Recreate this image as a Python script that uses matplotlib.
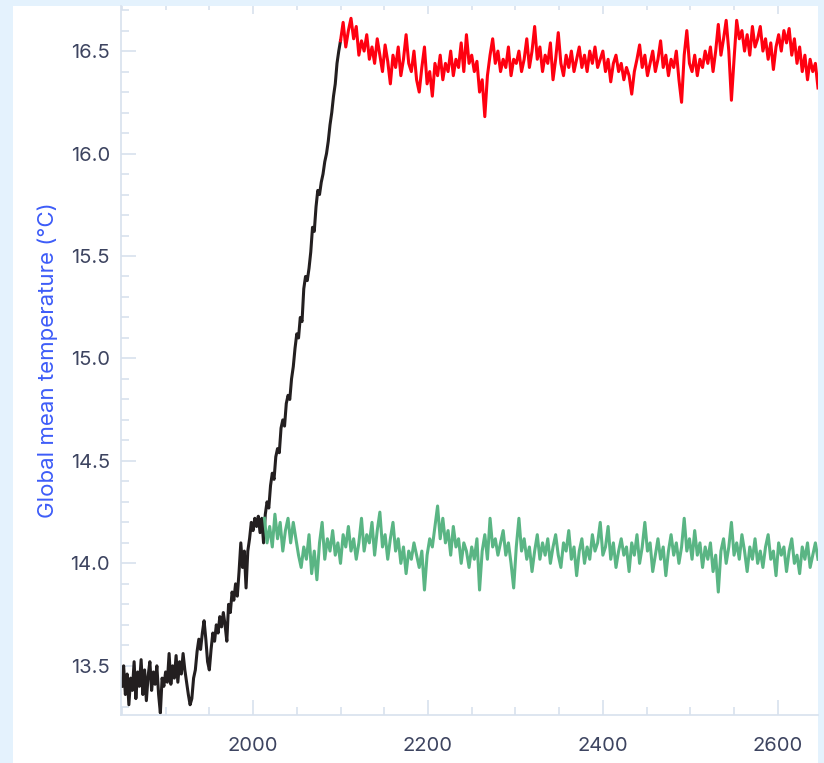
import matplotlib
matplotlib.use("Agg")
import matplotlib.pyplot as plt
import numpy as np

# ---- data ----
# historical record, one value every 2 years (1850-2100)
hist_years = list(range(1850, 2101, 2))
hist_temp = [
    13.40, 13.50, 13.36, 13.46, 13.31, 13.44, 13.38, 13.52, 13.34, 13.47,
    13.40, 13.53, 13.36, 13.48, 13.33, 13.45, 13.52, 13.38, 13.47, 13.41,
    13.50, 13.36, 13.27, 13.44, 13.40, 13.47, 13.42, 13.56, 13.41, 13.50,
    13.44, 13.55, 13.42, 13.52, 13.46, 13.56, 13.48, 13.42, 13.36, 13.31,
    13.34, 13.44, 13.48, 13.57, 13.63, 13.58, 13.66, 13.72, 13.63, 13.52,
    13.48, 13.58, 13.66, 13.62, 13.70, 13.66, 13.74, 13.69, 13.76, 13.70,
    13.62, 13.80, 13.76, 13.86, 13.82, 13.90, 13.84, 13.96, 14.10, 13.98,
    14.06, 13.88, 14.06, 14.12, 14.20, 14.16, 14.22, 14.18, 14.23, 14.15,
    14.22, 14.10, 14.24, 14.30, 14.27, 14.38, 14.44, 14.41, 14.52, 14.56,
    14.54, 14.66, 14.70, 14.67, 14.78, 14.82, 14.80, 14.90, 14.96, 15.05,
    15.12, 15.10, 15.20, 15.18, 15.34, 15.40, 15.38, 15.44, 15.52, 15.64,
    15.62, 15.74, 15.82, 15.80, 15.86, 15.90, 15.96, 16.00, 16.06, 16.14,
    16.20, 16.28, 16.34, 16.44, 16.50, 16.55,
]

# high emissions continuation, one value every 3 years (2100-2646)
high_years = list(range(2100, 2647, 3))
high_temp = [
    16.55, 16.64, 16.52, 16.60, 16.66, 16.56, 16.62, 16.48, 16.55, 16.50,
    16.58, 16.46, 16.52, 16.44, 16.56, 16.48, 16.40, 16.53, 16.45, 16.34,
    16.48, 16.42, 16.52, 16.38, 16.46, 16.58, 16.44, 16.40, 16.50, 16.36,
    16.30, 16.42, 16.52, 16.34, 16.40, 16.28, 16.44, 16.38, 16.48, 16.36,
    16.44, 16.40, 16.50, 16.38, 16.46, 16.42, 16.54, 16.40, 16.58, 16.44,
    16.48, 16.40, 16.45, 16.30, 16.36, 16.18, 16.38, 16.48, 16.56, 16.44,
    16.50, 16.40, 16.46, 16.42, 16.52, 16.38, 16.46, 16.44, 16.50, 16.40,
    16.46, 16.56, 16.42, 16.50, 16.62, 16.46, 16.52, 16.40, 16.48, 16.44,
    16.54, 16.36, 16.46, 16.59, 16.44, 16.38, 16.48, 16.42, 16.50, 16.40,
    16.46, 16.52, 16.42, 16.48, 16.40, 16.50, 16.44, 16.52, 16.42, 16.46,
    16.50, 16.40, 16.46, 16.35, 16.44, 16.48, 16.40, 16.44, 16.36, 16.42,
    16.38, 16.29, 16.40, 16.46, 16.53, 16.42, 16.48, 16.38, 16.44, 16.50,
    16.40, 16.46, 16.55, 16.42, 16.48, 16.38, 16.46, 16.42, 16.50, 16.36,
    16.25, 16.48, 16.60, 16.44, 16.40, 16.48, 16.38, 16.46, 16.42, 16.50,
    16.44, 16.52, 16.40, 16.50, 16.63, 16.48, 16.56, 16.65, 16.50, 16.26,
    16.46, 16.65, 16.56, 16.60, 16.50, 16.58, 16.48, 16.62, 16.52, 16.56,
    16.62, 16.50, 16.56, 16.46, 16.54, 16.41, 16.52, 16.58, 16.50, 16.60,
    16.54, 16.61, 16.48, 16.56, 16.44, 16.52, 16.40, 16.48, 16.36, 16.46,
    16.40, 16.44, 16.32,
]

# stabilised continuation, one value every 3 years (2013-2646)
low_years = list(range(2013, 2647, 3))
low_temp = [
    14.22, 14.10, 14.18, 14.08, 14.24, 14.12, 14.20, 14.06, 14.16, 14.22,
    14.10, 14.20, 14.12, 14.04, 13.98, 14.08, 14.02, 14.14, 13.95, 14.06,
    13.92, 14.10, 14.20, 14.02, 14.12, 14.06, 14.16, 14.04, 14.10, 14.00,
    14.14, 14.08, 14.18, 14.06, 14.12, 14.02, 14.10, 14.22, 14.06, 14.14,
    14.10, 14.20, 14.04, 14.16, 14.25, 14.08, 14.14, 14.02, 14.12, 14.20,
    14.06, 14.12, 14.00, 14.08, 13.95, 14.06, 14.02, 14.10, 14.04, 13.98,
    14.06, 13.87, 14.04, 14.12, 14.08, 14.18, 14.28, 14.12, 14.22, 14.10,
    14.16, 14.04, 14.18, 14.08, 14.12, 14.00, 14.10, 14.06, 13.98, 14.08,
    14.02, 14.12, 13.87, 14.06, 14.14, 14.02, 14.22, 14.08, 14.12, 14.04,
    14.10, 14.16, 14.04, 14.10, 14.00, 13.88, 14.08, 14.22, 14.06, 14.12,
    14.02, 14.08, 13.96, 14.06, 14.14, 14.02, 14.10, 14.04, 14.12, 14.00,
    14.08, 14.14, 14.04, 13.98, 14.10, 14.06, 14.16, 14.02, 14.08, 13.94,
    14.06, 14.12, 14.00, 14.08, 14.02, 14.14, 14.06, 14.10, 14.20, 14.04,
    14.08, 14.18, 14.02, 14.10, 13.98, 14.06, 14.12, 14.04, 14.08, 13.96,
    14.10, 14.04, 14.14, 14.00, 14.08, 14.20, 14.06, 14.10, 13.96, 14.04,
    14.12, 14.02, 14.08, 13.94, 14.06, 14.14, 14.04, 14.10, 14.00, 14.08,
    14.22, 14.06, 14.12, 14.02, 14.16, 14.04, 14.10, 13.98, 14.08, 14.02,
    14.10, 13.96, 14.04, 13.86, 14.06, 14.12, 14.00, 14.08, 14.20, 14.04,
    14.10, 14.02, 14.14, 14.06, 13.96, 14.08, 14.02, 14.12, 14.00, 14.06,
    13.98, 14.08, 14.14, 14.02, 14.06, 13.94, 14.10, 14.04, 14.08, 13.96,
    14.06, 14.12, 14.00, 14.04, 13.95, 14.08, 14.02, 14.10, 13.98, 14.04,
    14.10, 14.02,
]

y_ticks = [13.5, 14.0, 14.5, 15.0, 15.5, 16.0, 16.5]
x_ticks = [2000, 2200, 2400, 2600]

plt.rcParams['font.family'] = ['Inter', 'DejaVu Sans']

W, H = 824, 763
fig = plt.figure(figsize=(W / 100, H / 100), dpi=100)
fig.patch.set_facecolor('#e4f2fd')

# white card behind the chart (its own axes, kept at the back)
card = fig.add_axes([13 / W, 0, (818 - 13) / W, (763 - 6) / H])
card.set_facecolor('white')
card.set_xticks([])
card.set_yticks([])
for s in card.spines.values():
    s.set_visible(False)
card.set_zorder(0)

ax = fig.add_axes([121 / W, (H - 715) / H, (818 - 121) / W, (715 - 6) / H])
ax.set_facecolor('none')
ax.set_zorder(1)

ax.plot(hist_years, hist_temp, color='#231f20', lw=2.2, zorder=2)
ax.plot(low_years, low_temp, color='#5ab584', lw=2.2, zorder=3)
ax.plot(high_years, high_temp, color='#ff0010', lw=2.2, zorder=3)

ax.set_xlim(1849, 2646)
ax.set_ylim(13.26, 16.72)

axis_col = '#d8e2ee'
for s in ['top', 'right']:
    ax.spines[s].set_visible(False)
for s in ['left', 'bottom']:
    ax.spines[s].set_color(axis_col)
    ax.spines[s].set_linewidth(1.2)

ax.set_xticks(x_ticks)
ax.set_xticks(np.arange(1850, 2646, 50), minor=True)
ax.set_yticks(y_ticks)
ax.set_yticks(np.arange(13.3, 16.75, 0.1), minor=True)
ax.set_yticklabels(['%.1f' % v for v in y_ticks])

ax.tick_params(axis='both', which='major', direction='in', color=axis_col,
               width=1.2, labelsize=14.5, labelcolor='#3d4460')
ax.tick_params(axis='y', which='major', length=11, pad=8)
ax.tick_params(axis='x', which='major', length=11, pad=16)
ax.tick_params(axis='both', which='minor', direction='in', color=axis_col,
               width=1.2, length=5.5)

# small ticks along the top edge
top = ax.secondary_xaxis('top')
top.set_xticks(x_ticks)
top.set_xticks(np.arange(1850, 2646, 50), minor=True)
top.tick_params(which='major', direction='in', length=6, color=axis_col,
                width=1.2, labeltop=False)
top.tick_params(which='minor', direction='in', length=3, color=axis_col,
                width=1.2)
top.spines['top'].set_visible(False)

ax.set_ylabel('Global mean temperature (°C)', color='#3d5cf8', fontsize=16)
ax.yaxis.set_label_coords(-0.090, 0.5)

fig.savefig('out.png', dpi=100, facecolor=fig.get_facecolor())
